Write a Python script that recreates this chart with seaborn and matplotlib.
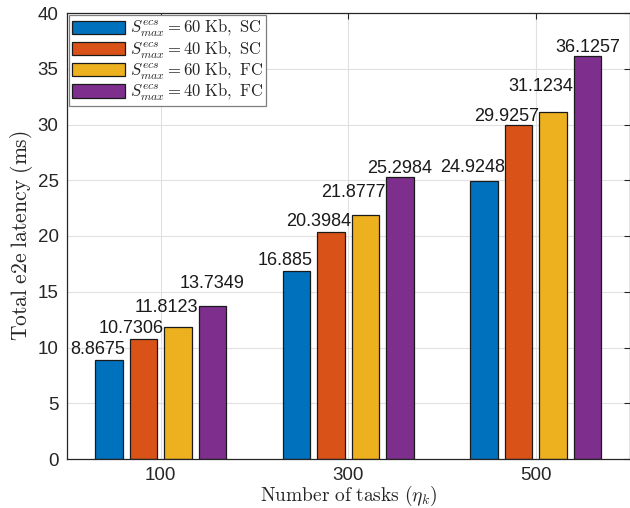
import matplotlib
matplotlib.use("Agg")
import matplotlib.pyplot as plt
import seaborn as sns
import pandas as pd

# Data
task_counts = ["100", "300", "500"]
series_labels = [
    r"$S^{ecs}_{max} = 60\ \mathrm{Kb,\ SC}$",
    r"$S^{ecs}_{max} = 40\ \mathrm{Kb,\ SC}$",
    r"$S^{ecs}_{max} = 60\ \mathrm{Kb,\ FC}$",
    r"$S^{ecs}_{max} = 40\ \mathrm{Kb,\ FC}$",
]
latency_60_sc = [8.8675, 16.885, 24.9248]
latency_40_sc = [10.7306, 20.3984, 29.9257]
latency_60_fc = [11.8123, 21.8777, 31.1234]
latency_40_fc = [13.7349, 25.2984, 36.1257]
series_values = [latency_60_sc, latency_40_sc, latency_60_fc, latency_40_fc]
yticks = [0, 5, 10, 15, 20, 25, 30, 35, 40]

colors = ["#0072BD", "#D95319", "#EDB120", "#7E2F8E"]

# Label placement (pixel offsets of each value label from its bar top)
label_dx = [-12, -12, -12, 0]
label_dy = [
    [6, 6, 9],
    [6, 6, 4],
    [15, 18, 21],
    [18, 4, 4],
]

rows = []
for lab, vals in zip(series_labels, series_values):
    for t, v in zip(task_counts, vals):
        rows.append({"tasks": t, "latency": v, "config": lab})
df = pd.DataFrame(rows)

sns.set_style("white")
plt.rcParams["font.family"] = ["Liberation Sans", "DejaVu Sans"]
plt.rcParams["mathtext.fontset"] = "cm"

fig = plt.figure(figsize=(6.3, 5.08), dpi=100)
ax = fig.add_axes([67 / 630, 1 - 459 / 508, (629.5 - 67) / 630, (459 - 13) / 508])

sns.barplot(
    data=df, x="tasks", y="latency", hue="config",
    hue_order=series_labels, order=task_counts,
    palette=colors, width=0.733, gap=0.2,
    edgecolor="#1a1a1a", linewidth=0.9, saturation=1,
    ax=ax, legend=False,
)

ax.set_xlim(-0.5, 2.5)
ax.set_ylim(0, 40)
ax.set_yticks(yticks)
ax.set_axisbelow(True)
ax.grid(True, color="#e0e0e0", linewidth=0.8)

for spine in ax.spines.values():
    spine.set_color("#262626")
    spine.set_linewidth(0.9)
ax.tick_params(direction="in", length=4, width=0.8, color="#262626",
               top=True, right=True, labelsize=13.5, labelcolor="#262626", pad=6)

ax.set_xlabel(r"$\mathrm{Number\ of\ tasks\ (}\eta_k\mathrm{)}$", fontsize=14,
              color="#262626")
ax.set_ylabel(r"$\mathrm{Total\ e2e\ latency\ (ms)}$", fontsize=15.5,
              color="#262626")
ax.xaxis.set_label_coords(0.5, -0.056)
ax.yaxis.set_label_coords(-0.057, 0.5)

# Value labels above each bar
for i, (container, vals) in enumerate(zip(ax.containers, series_values)):
    for j, (bar, v) in enumerate(zip(container, vals)):
        xc = bar.get_x() + bar.get_width() / 2
        ax.annotate(f"{v:g}", xy=(xc, v), xytext=(label_dx[i], label_dy[i][j]),
                    textcoords="offset pixels", ha="center", va="baseline",
                    fontsize=13, color="#1a1a1a")

# Legend
handles = [plt.Rectangle((0, 0), 1, 1, facecolor=c, edgecolor="#1a1a1a", linewidth=0.9)
           for c in colors]
leg = ax.legend(handles, series_labels, loc="upper left", fontsize=12,
                frameon=True, fancybox=False, framealpha=1,
                edgecolor="#7f7f7f", borderaxespad=0.1, borderpad=0.2,
                handlelength=3.2, handleheight=0.85, labelspacing=0.0,
                handletextpad=0.25)
leg.get_frame().set_linewidth(0.9)

fig.savefig("out.png", dpi=100)
